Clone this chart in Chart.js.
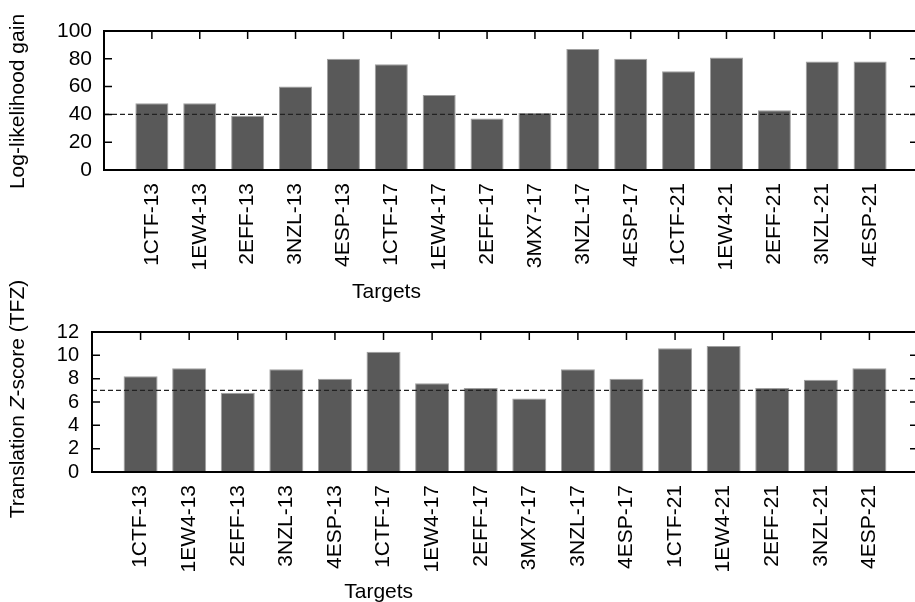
<!DOCTYPE html>
<html>
<head>
<meta charset="utf-8">
<script src="https://cdn.jsdelivr.net/npm/chart.js@4/dist/chart.umd.min.js"></script>
<style>
  html, body { margin: 0; padding: 0; background: #fff; overflow: hidden; width: 915px; height: 602px; }
  #wrap { position: relative; width: 915px; height: 602px; overflow: hidden; }
  canvas { position: absolute; left: 0; }
</style>
</head>
<body>
<div id="wrap">
  <canvas id="llg" width="930" height="305" style="top:0px"></canvas>
  <canvas id="tfz" width="930" height="332" style="top:270px"></canvas>
</div>
<script>
// Targets shared by both panels
const targets = ['1CTF-13', '1EW4-13', '2EFF-13', '3NZL-13', '4ESP-13', '1CTF-17', '1EW4-17', '2EFF-17',
                 '3MX7-17', '3NZL-17', '4ESP-17', '1CTF-21', '1EW4-21', '2EFF-21', '3NZL-21', '4ESP-21'];

// Upper panel: log-likelihood gain
const llgValues = [48, 48, 39, 60, 80, 76, 54, 37, 41, 87, 80, 71, 81, 43, 78, 78];
const llgThreshold = 40;
const llgTicks = [0, 20, 40, 60, 80, 100];

// Lower panel: translation Z-score
const tfzValues = [8.2, 8.9, 6.8, 8.8, 8.0, 10.3, 7.6, 7.2, 6.3, 8.8, 8.0, 10.6, 10.8, 7.2, 7.9, 8.9];
const tfzThreshold = 7;
const tfzTicks = [0, 2, 4, 6, 8, 10, 12];

const xTitle = 'Targets';
const FONT = "'Liberation Sans', Arial, Helvetica, sans-serif";
Chart.defaults.color = '#000';
Chart.defaults.font.family = FONT;

// Frame, inward ticks, threshold line and axis titles
const decor = {
  id: 'decor',
  afterDatasetsDraw(chart, args, o) {
    const { ctx, chartArea: a, scales: { x, y } } = chart;
    ctx.save();
    // dashed threshold
    const ty = y.getPixelForValue(o.threshold);
    ctx.beginPath();
    ctx.setLineDash([5, 3]);
    ctx.strokeStyle = '#222';
    ctx.lineWidth = 1.2;
    ctx.moveTo(a.left, ty);
    ctx.lineTo(a.right, ty);
    ctx.stroke();
    ctx.setLineDash([]);

    // inward ticks
    ctx.strokeStyle = '#000';
    ctx.lineWidth = 1.5;
    ctx.beginPath();
    targets.forEach((t, i) => {
      const px = x.getPixelForValue(i + 1);
      ctx.moveTo(px, a.top);
      ctx.lineTo(px, a.top + 8);
    });
    o.yTicks.forEach(v => {
      const py = y.getPixelForValue(v);
      ctx.moveTo(a.left, py);
      ctx.lineTo(a.left + 8, py);
      ctx.moveTo(a.right, py);
      ctx.lineTo(a.right - 8, py);
    });
    ctx.stroke();

    // frame
    ctx.lineWidth = 2;
    ctx.strokeRect(a.left, a.top, a.right - a.left, a.bottom - a.top);

    // x title
    ctx.fillStyle = '#000';
    ctx.font = '21px ' + FONT;
    ctx.textAlign = 'center';
    ctx.textBaseline = 'alphabetic';
    ctx.fillText(xTitle, x.getPixelForValue(o.xTitlePos), a.bottom + o.xTitleOffset);

    // y title (runs allow an italic letter)
    ctx.translate(o.yTitleX, (a.top + a.bottom) / 2 + o.yTitleShift);
    ctx.rotate(-Math.PI / 2);
    ctx.textAlign = 'left';
    ctx.textBaseline = 'middle';
    const fontFor = r => (r.italic ? 'italic ' : '') + '21px ' + FONT;
    let total = 0;
    o.yTitle.forEach(r => { ctx.font = fontFor(r); total += ctx.measureText(r.text).width; });
    let cx = -total / 2;
    o.yTitle.forEach(r => {
      ctx.font = fontFor(r);
      ctx.fillText(r.text, cx, 0);
      cx += ctx.measureText(r.text).width;
    });
    ctx.restore();
  }
};

function makePanel(id, values, threshold, yTicks, yTitle, g) {
  return new Chart(document.getElementById(id), {
    type: 'bar',
    data: {
      datasets: [{
        data: values.map((v, i) => ({ x: i + 1, y: v })),
        backgroundColor: '#595959',
        borderColor: '#a0a0a0',
        borderWidth: 1,
        barPercentage: g.barPct,
        categoryPercentage: 1
      }]
    },
    options: {
      responsive: false,
      animation: false,
      events: [],
      layout: { padding: { top: g.padTop, right: 12, left: 0, bottom: 0 } },
      plugins: {
        legend: { display: false },
        tooltip: { enabled: false },
        decor: { threshold, yTicks, yTitle, yTitleX: 18, yTitleShift: g.yTitleShift,
                 xTitlePos: 5.9, xTitleOffset: g.xTitleOffset }
      },
      scales: {
        x: {
          type: 'linear',
          offset: false,
          min: 0,
          max: targets.length + 1,
          grid: { display: false, drawTicks: false },
          border: { display: false },
          ticks: {
            stepSize: 1,
            autoSkip: false,
            minRotation: 90,
            maxRotation: 90,
            padding: 13,
            font: { size: 21 },
            callback: v => targets[v - 1] || ''
          },
          afterFit: s => {
            s.height = g.xHeight;
            s.paddingLeft = 0;
            s.paddingRight = 0;
          }
        },
        y: {
          min: yTicks[0],
          max: yTicks[yTicks.length - 1],
          grid: { display: false, drawTicks: false },
          border: { display: false },
          ticks: {
            stepSize: yTicks[1] - yTicks[0],
            autoSkip: false,
            padding: g.yPad,
            font: { size: g.yFont }
          },
          afterFit: s => { s.width = g.yWidth; }
        }
      }
    },
    plugins: [decor]
  });
}

makePanel('llg', llgValues, llgThreshold, llgTicks,
  [{ text: 'Log-likelihood gain' }],
  { padTop: 31, xHeight: 135, yWidth: 104, yPad: 12, yFont: 21, barPct: 0.69,
    xTitleOffset: 128, yTitleShift: 1 });

makePanel('tfz', tfzValues, tfzThreshold, tfzTicks,
  [{ text: 'Translation ' }, { text: 'Z', italic: true }, { text: '-score (TFZ)' }],
  { padTop: 62, xHeight: 130, yWidth: 92, yPad: 13, yFont: 20, barPct: 0.70,
    xTitleOffset: 126, yTitleShift: -3 });
</script>
</body>
</html>
